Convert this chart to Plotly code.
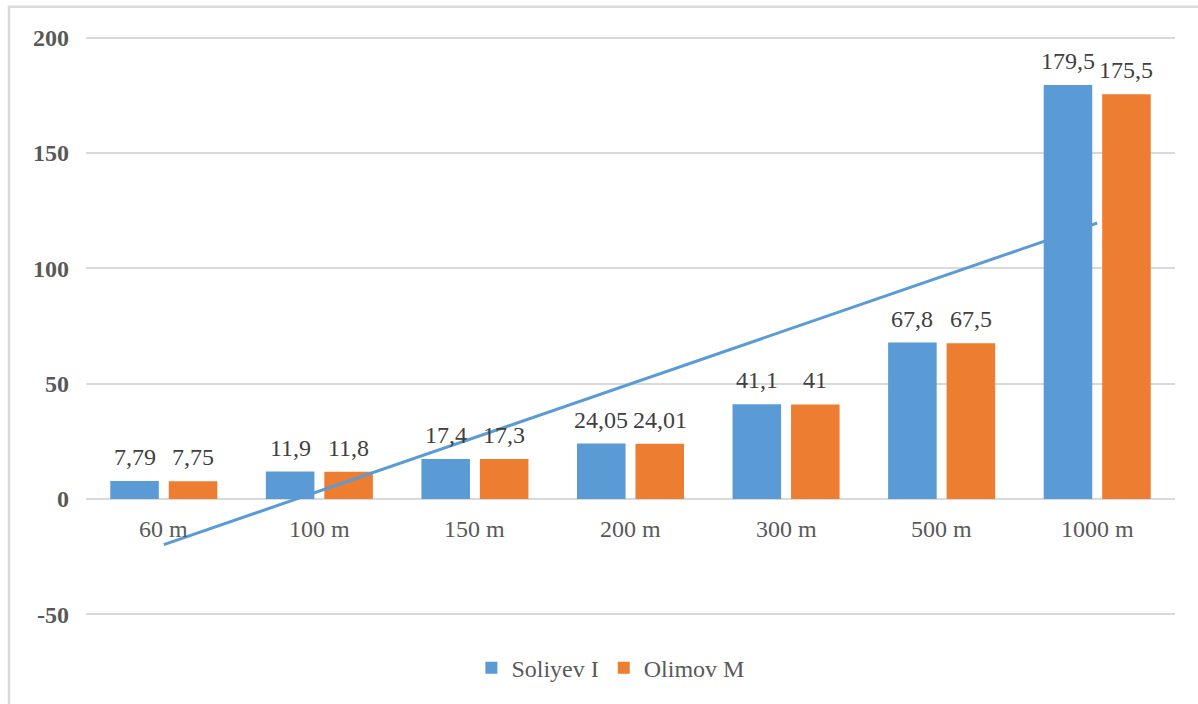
import numpy as np
import plotly.graph_objects as go

categories = ["60 m", "100 m", "150 m", "200 m", "300 m", "500 m", "1000 m"]
soliyev = [7.79, 11.9, 17.4, 24.05, 41.1, 67.8, 179.5]
olimov = [7.75, 11.8, 17.3, 24.01, 41, 67.5, 175.5]
y_ticks = [-50, 0, 50, 100, 150, 200]
y_tick_text = ["-50", "0", "50", "100", "150", "200"]

BLUE = "#5B9BD5"
ORANGE = "#ED7D31"
FONT = "Liberation Serif"
BARGAP = 0.248
GROUPGAP = 0.17

x = np.arange(1, len(categories) + 1)

def fmt(v):
    return f"{v:g}".replace(".", ",")

fig = go.Figure()
fig.add_trace(go.Bar(x=x, y=soliyev, name="Soliyev I", marker=dict(color=BLUE, line=dict(width=0))))
fig.add_trace(go.Bar(x=x, y=olimov, name="Olimov M", marker=dict(color=ORANGE, line=dict(width=0))))

# linear trendline for Soliyev I
slope, intercept = np.polyfit(x, soliyev, 1)
xt = np.array([x[0], x[-1]])
fig.add_trace(go.Scatter(x=xt, y=slope * xt + intercept, mode="lines",
                         line=dict(color=BLUE, width=3), showlegend=False, hoverinfo="skip"))

offset = (1 - BARGAP) / 4
ann = []
for i, (a, b) in enumerate(zip(soliyev, olimov)):
    for xv, v in ((x[i] - offset, a), (x[i] + offset, b)):
        ann.append(dict(x=xv, y=v, xref="x", yref="y", text=fmt(v), showarrow=False,
                        yanchor="middle", yshift=24,
                        font=dict(family=FONT, size=24, color="#404040")))
    ann.append(dict(x=x[i], y=0, xref="x", yref="y", text=categories[i], showarrow=False,
                    yanchor="middle", yshift=-30,
                    font=dict(family=FONT, size=24, color="#595959")))

fig.update_layout(
    width=1198, height=704,
    margin=dict(l=86, r=23, t=33.4, b=85.4),
    paper_bgcolor="white", plot_bgcolor="white",
    barmode="group", bargap=BARGAP, bargroupgap=GROUPGAP,
    annotations=ann,
    font=dict(family=FONT),
    legend=dict(orientation="h", x=0.482, xanchor="center", y=-0.084, yanchor="middle",
                font=dict(family=FONT, size=24, color="#595959"), itemwidth=30,
                traceorder="normal"),
    shapes=[dict(type="rect", xref="paper", yref="paper", x0=-0.0707, x1=1.2, y0=-0.3, y1=1.0446,
                 line=dict(color="#D9D9D9", width=2.5), layer="below")],
    showlegend=True,
)
fig.update_xaxes(range=[0.5, len(categories) + 0.5], showticklabels=False, showgrid=False,
                 zeroline=False, showline=False, ticks="")
fig.update_yaxes(range=[-52, 202], tickvals=y_ticks, ticktext=y_tick_text,
                 showgrid=True, gridcolor="#D9D9D9", gridwidth=2,
                 zeroline=True, zerolinecolor="#D9D9D9", zerolinewidth=2, showline=False,
                 ticklabelstandoff=16,
                 tickfont=dict(family=FONT, size=24, color="#595959", weight="bold"))

fig.write_html("out.html")
